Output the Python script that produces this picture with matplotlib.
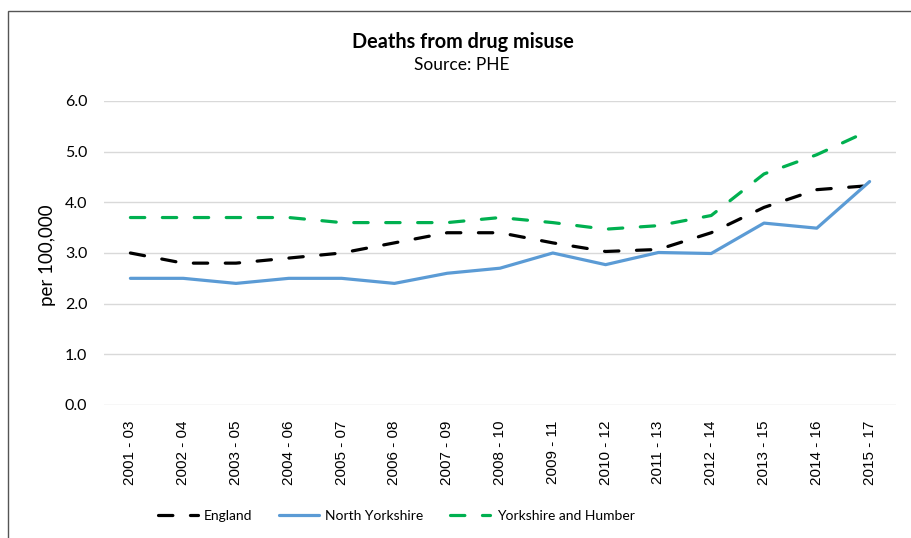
import matplotlib.pyplot as plt
import numpy as np
from matplotlib.patches import Rectangle

periods = ["2001 - 03", "2002 - 04", "2003 - 05", "2004 - 06", "2005 - 07",
           "2006 - 08", "2007 - 09", "2008 - 10", "2009 - 11", "2010 - 12",
           "2011 - 13", "2012 - 14", "2013 - 15", "2014 - 16", "2015 - 17"]
england = [3.0, 2.8, 2.8, 2.9, 3.0, 3.2, 3.4, 3.4, 3.2, 3.03, 3.07, 3.4, 3.9, 4.25, 4.33]
north_yorkshire = [2.5, 2.5, 2.4, 2.5, 2.5, 2.4, 2.6, 2.7, 3.0, 2.77, 3.01, 2.99, 3.59, 3.49, 4.41]
yorks_humber = [3.7, 3.7, 3.7, 3.7, 3.6, 3.6, 3.6, 3.7, 3.6, 3.47, 3.54, 3.74, 4.56, 4.94, 5.42]
yticks = [0.0, 1.0, 2.0, 3.0, 4.0, 5.0, 6.0]

W, H = 912, 538
fig = plt.figure(figsize=(W / 100, H / 100), dpi=100)
ax = fig.add_axes([104 / W, 1 - 405 / H, 792 / W, 304 / H])

x = np.arange(len(periods))
ax.plot(x, england, color="black", lw=2.3, dashes=(4.5, 5.5),
        dash_capstyle="round", label="England", zorder=3)
ax.plot(x, north_yorkshire, color="#5B9BD5", lw=2.3,
        solid_capstyle="round", label="North Yorkshire", zorder=3)
ax.plot(x, yorks_humber, color="#00B050", lw=2.3, dashes=(4.5, 5.5),
        dash_capstyle="round", label="Yorkshire and Humber", zorder=3)

ax.set_xlim(-0.5, len(periods) - 0.5)
ax.set_ylim(0, 6.0)
ax.set_yticks(yticks)
ax.set_yticklabels([f"{v:.1f}" for v in yticks], fontsize=11.5, family="Lato")
ax.set_xticks(x)
ax.set_xticklabels(periods, rotation=90, fontsize=11, family="Liberation Sans")
ax.tick_params(length=0, pad=12)
ax.tick_params(axis="x", pad=11)
ax.grid(axis="y", color="#D9D9D9", lw=1)
ax.set_axisbelow(True)
for s in ax.spines.values():
    s.set_visible(False)

fig.text(48 / W, 1 - 255 / H, "per 100,000", rotation=90, ha="center", va="center",
         fontsize=13.5, family="Lato")
fig.text(463 / W, 1 - 42 / H, "Deaths from drug misuse", ha="center", va="center",
         fontsize=14.3, fontweight="bold", family="Lato")
fig.text(462 / W, 1 - 65 / H, "Source: PHE", ha="center", va="center",
         fontsize=12.5, family="Lato")

leg = fig.legend(loc="center", bbox_to_anchor=(396 / W, 1 - 516 / H), ncol=3,
                 frameon=False, prop={"family": "Lato", "size": 10},
                 handlelength=2.9, handletextpad=0.45, columnspacing=1.9)

# chart border (left and top edges visible)
fig.add_artist(Rectangle((8 / W, -0.1), 1.2, 1 - 11 / H + 0.1, transform=fig.transFigure,
                         fill=False, edgecolor="#555555", lw=1))

fig.savefig("out.png", dpi=100)
